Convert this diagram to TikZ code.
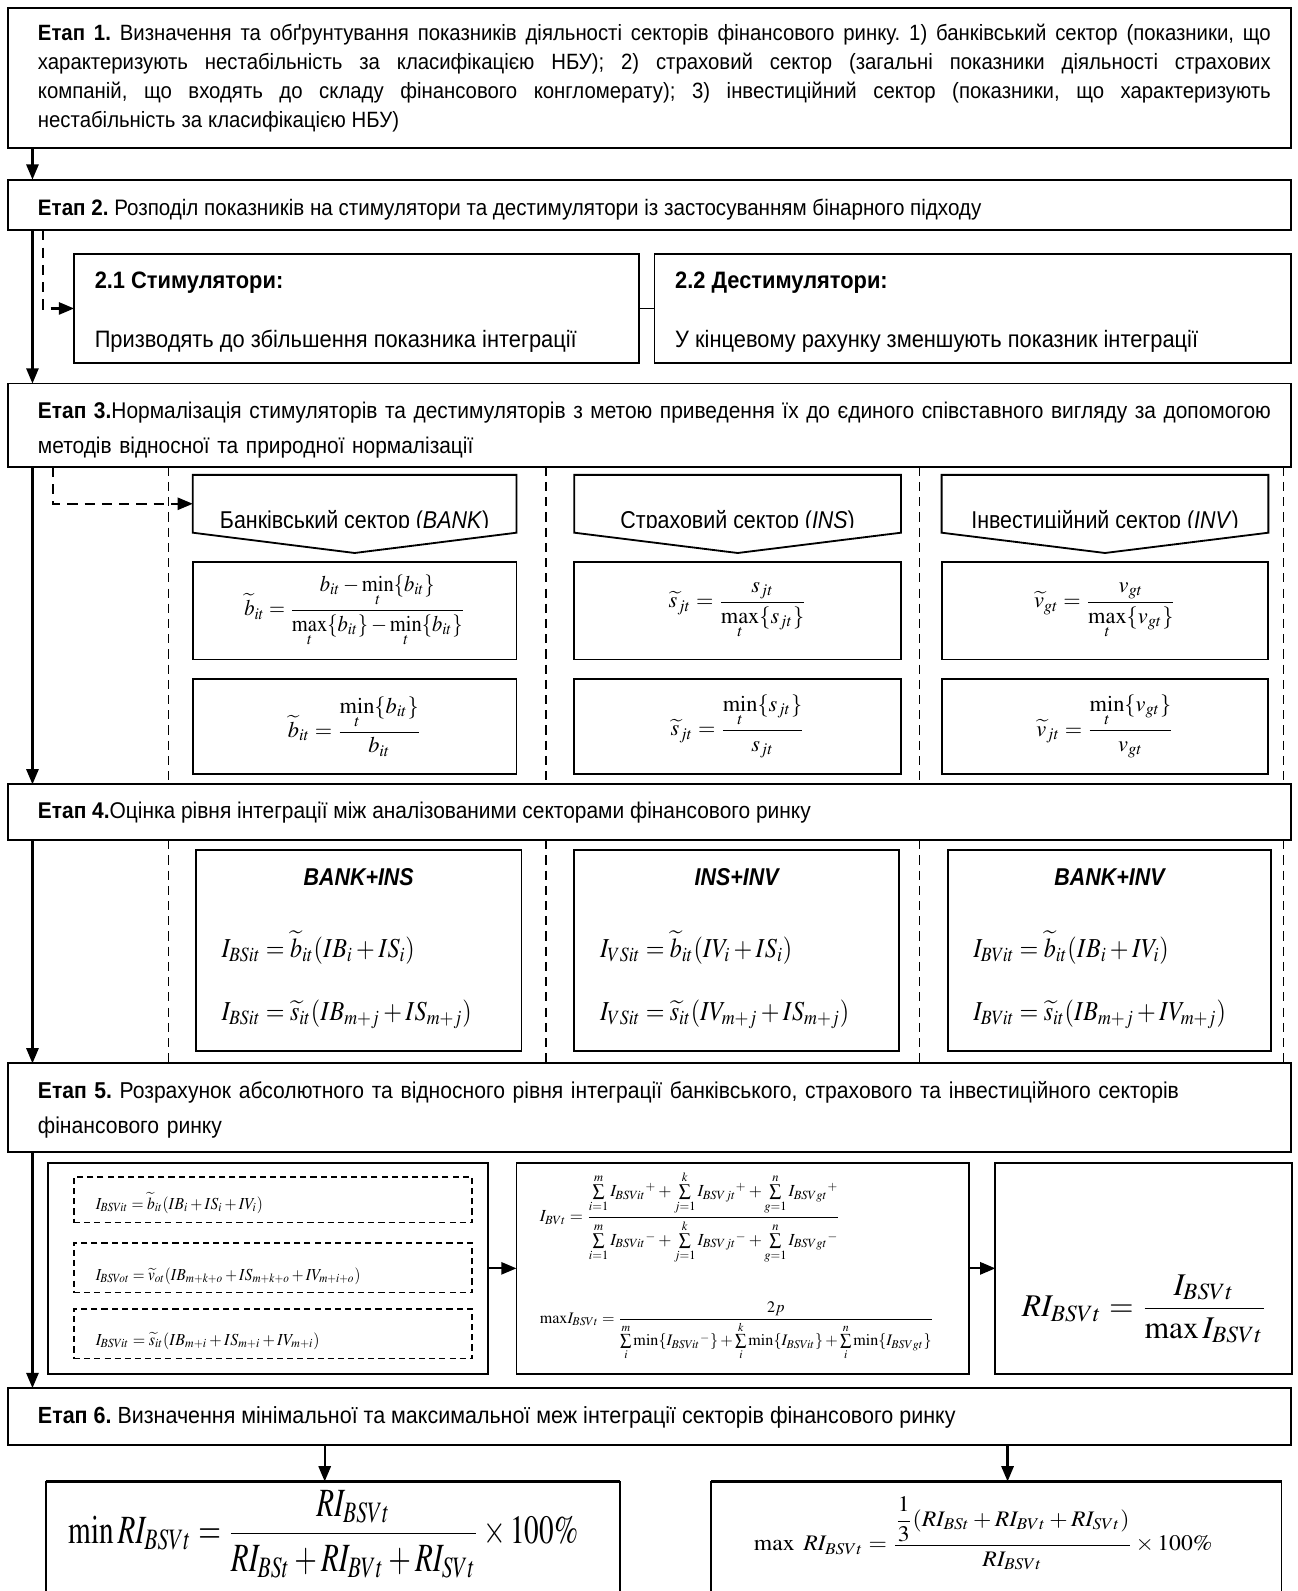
\documentclass[tikz,border=0pt]{standalone}
\usepackage{amsmath}
\usepackage{mathptmx}
\usepackage[no-math]{fontspec}
\setmainfont{Liberation Sans}[FakeStretch=0.92]
\newfontfamily\narrowfont{Liberation Sans}[FakeStretch=0.88]
\usepackage{graphicx}
\usetikzlibrary{arrows.meta,calc}

\DeclareRobustCommand{\looseSp}{\frenchspacing\spaceskip=0.27em plus 1em minus 0.08em\relax}

\tikzset{
  frame/.style={draw, line width=0.9pt},
  nobox/.style={},
  dbox/.style={draw, line width=0.7pt, dash pattern=on 3pt off 2pt},
  arr/.style={line width=1.1pt, -{Triangle[length=7.5pt,width=6pt]}},
  darr/.style={line width=1.1pt, dash pattern=on 5pt off 3.5pt, -{Triangle[length=7.5pt,width=6pt]}},
  sep/.style={line width=0.6pt, dash pattern=on 4.5pt off 3pt},
  link/.style={line width=0.6pt},
  etxt/.style={anchor=base west, inner sep=0pt, font=\fontsize{11.2}{14.35}\selectfont},
  fm/.style={inner sep=0pt},
  ptxt/.style={anchor=base, inner sep=0pt, font=\narrowfont\fontsize{12}{14}\selectfont},
  ttl/.style={inner sep=0pt, font=\narrowfont\fontsize{12}{14}\selectfont\bfseries\itshape},
  topthick/.style={line width=1.6pt},
}

\newcommand{\bx}[6][frame]{%
  \pgfmathsetmacro{\bxw}{(#5-#3)*0.5}%
  \pgfmathsetmacro{\bxh}{(#6-#4)*0.5}%
  \node[#1, anchor=north west, inner sep=0pt, outer sep=0pt, minimum width=\bxw pt, minimum height=\bxh pt] (#2) at (#3,#4) {};}
\newcommand{\sq}[1]{\scalebox{0.88}[1]{#1}}

\begin{document}
\frenchspacing
\begin{tikzpicture}[x=0.5pt,y=-0.5pt]
\useasboundingbox (0,0) rectangle (1279,1568);
\clip (0,0) rectangle (1279,1568);
\fill[white] (0,0) rectangle (1279,1568);

% ---------- stage boxes ----------
\bx{e1}{8}{8}{1272}{146}
\bx{e2}{8}{177}{1272}{227}
\bx{b21}{73}{250}{630}{358}
\bx{b22}{645}{250}{1272}{358}
\bx{e3}{8}{378}{1272}{460}
\bx{e4}{8}{773}{1272}{828}
\bx{e5}{8}{1048}{1272}{1135}
\bx{e6}{8}{1368}{1272}{1424}

% ---------- texts of stages ----------
\node[etxt, font=\fontsize{10.9}{14.35}\selectfont, text width=607.5pt, align=left] (t1) at (37,40) {\looseSp
\makebox[607.5pt][s]{\textbf{Етап 1.} Визначення та обґрунтування показників діяльності секторів фінансового ринку. 1) банківський сектор (показники, що}\\
\makebox[607.5pt][s]{характеризують нестабільність за класифікацією НБУ); 2) страховий сектор (загальні показники діяльності страхових}\\
\makebox[607.5pt][s]{компаній, що входять до складу фінансового конгломерату); 3) інвестиційний сектор (показники, що характеризують}\\
нестабільність за класифікацією НБУ)};
\node[etxt, font=\fontsize{11.03}{13}\selectfont] (t2) at (37,212) {\textbf{Етап 2.} Розподіл показників на стимулятори та дестимулятори із застосуванням бінарного підходу};
\node[etxt, font=\fontsize{11.7}{13}\selectfont\bfseries] (t21a) at (93,284) {2.1 Стимулятори:};
\node[etxt, font=\fontsize{11.7}{13}\selectfont] (t21b) at (93,342) {Призводять до збільшення показника інтеграції};
\node[etxt, font=\fontsize{11.7}{13}\selectfont\bfseries] (t22a) at (665,284) {2.2 Дестимулятори:};
\node[etxt, font=\fontsize{11.7}{13}\selectfont] (t22b) at (665,342) {У кінцевому рахунку зменшують показник інтеграції};
\node[etxt, font=\fontsize{11.2}{17.5}\selectfont, text width=620pt, align=left] (t3) at (37,412) {\textbf{Етап 3.}Нормалізація стимуляторів та дестимуляторів з метою приведення їх до єдиного співставного вигляду за допомогою\\методів відносної та природної нормалізації};
\node[etxt] (t4) at (37,807) {\textbf{Етап 4.}Оцінка рівня інтеграції між аналізованими секторами фінансового ринку};
\node[etxt, font=\fontsize{11.3}{17}\selectfont, text width=620pt, align=left] (t5) at (37,1083) {\textbf{Етап 5.} Розрахунок абсолютного та відносного рівня інтеграції банківського, страхового та інвестиційного секторів\\фінансового ринку};
\node[etxt, font=\fontsize{11.5}{13}\selectfont] (t6) at (37,1403) {\textbf{Етап 6.} Визначення мінімальної та максимальної меж інтеграції секторів фінансового ринку};

% ---------- main left arrows ----------
\draw[arr] ($(e1.south west)+(24,0)$) -- ($(e2.north west)+(24,0)$);
\draw[arr] ($(e2.south west)+(24,0)$) -- ($(e3.north west)+(24,0)$);
\draw[arr] ($(e3.south west)+(24,0)$) -- ($(e4.north west)+(24,0)$);
\draw[arr] ($(e4.south west)+(24,0)$) -- ($(e5.north west)+(24,0)$);
\draw[arr] ($(e5.south west)+(24,0)$) -- ($(e6.north west)+(24,0)$);

% ---------- stage 2 ----------
\draw[darr] ($(e2.south west)+(34,0)$) |- (b21.west);
\draw[link] (b21.east) -- (b22.west);

% ---------- stage 3 ----------
\foreach \sx in {166,538,906,1265}{
  \draw[sep] (\sx,460) -- (\sx,773);
  \draw[sep] (\sx,828) -- (\sx,1048);
}
\bx[nobox]{p1}{190}{468}{509}{525}
\bx[nobox]{p2}{566}{468}{888}{525}
\bx[nobox]{p3}{928}{468}{1250}{525}
\foreach \p in {p1,p2,p3}{
  \draw[frame] (\p.north west) -- (\p.north east) -- (\p.south east) -- ($(\p.south)+(0,20)$) -- (\p.south west) -- cycle;
}
\begin{scope}
\clip (180,470) rectangle (1260,519.5);
\node[ptxt] (pt1) at ($(p1.south)+(0,-4.5)$) {Банківський сектор (\textit{BANK})};
\node[ptxt] (pt2) at ($(p2.south)+(0,-4.5)$) {Страховий сектор (\textit{INS})};
\node[ptxt] (pt3) at ($(p3.south)+(0,-4.5)$) {Інвестиційний сектор (\textit{INV})};
\end{scope}
\draw[darr] ($(e3.south west)+(44,0)$) |- (p1.west);

\bx{f11}{190}{554}{509}{650}
\bx{f12}{190}{669}{509}{763}
\bx{f21}{566}{554}{888}{650}
\bx{f22}{566}{669}{888}{763}
\bx{f31}{928}{554}{1250}{650}
\bx{f32}{928}{669}{1250}{763}

\begin{scope}[every node/.style={fm, font=\fontsize{11}{13}\selectfont}]
\node (m11) at (f11) {\scalebox{0.92}[1]{$\widetilde{b}_{it}=\dfrac{b_{it}-\min\limits_{t}\{b_{it}\}}{\max\limits_{t}\{b_{it}\}-\min\limits_{t}\{b_{it}\}}$}};
\node (m12) at (f12) {$\widetilde{b}_{it}=\dfrac{\min\limits_{t}\{b_{it}\}}{b_{it}}$};
\node (m21) at (f21) {$\widetilde{s}_{jt}=\dfrac{s_{jt}}{\max\limits_{t}\{s_{jt}\}}$};
\node (m22) at (f22) {$\widetilde{s}_{jt}=\dfrac{\min\limits_{t}\{s_{jt}\}}{s_{jt}}$};
\node (m31) at (f31) {$\widetilde{v}_{gt}=\dfrac{v_{gt}}{\max\limits_{t}\{v_{gt}\}}$};
\node (m32) at (f32) {$\widetilde{v}_{jt}=\dfrac{\min\limits_{t}\{v_{gt}\}}{v_{gt}}$};
\end{scope}

% ---------- stage 4 ----------
\bx{g1}{193}{838}{514}{1036}
\bx{g2}{566}{838}{886}{1036}
\bx{g3}{934}{838}{1253}{1036}
\node[ttl] (tt1) at ($(g1.north)+(0,26)$) {BANK+INS};
\node[ttl] (tt2) at ($(g2.north)+(0,26)$) {INS+INV};
\node[ttl] (tt3) at ($(g3.north)+(0,26)$) {BANK+INV};
\begin{scope}[every node/.style={fm, anchor=west, font=\fontsize{13.5}{16}\selectfont}]
\node (q1a) at ($(g1.north west)+(25,96)$) {\sq{$I_{BSit}=\widetilde{b}_{it}(IB_i+IS_i)$}};
\node (q1b) at ($(g1.north west)+(25,162)$) {\sq{$I_{BSit}=\widetilde{s}_{it}(IB_{m+j}+IS_{m+j})$}};
\node (q2a) at ($(g2.north west)+(25,96)$) {\sq{$I_{VSit}=\widetilde{b}_{it}(IV_i+IS_i)$}};
\node (q2b) at ($(g2.north west)+(25,162)$) {\sq{$I_{VSit}=\widetilde{s}_{it}(IV_{m+j}+IS_{m+j})$}};
\node (q3a) at ($(g3.north west)+(25,96)$) {\sq{$I_{BVit}=\widetilde{b}_{it}(IB_i+IV_i)$}};
\node (q3b) at ($(g3.north west)+(25,162)$) {\sq{$I_{BVit}=\widetilde{s}_{it}(IB_{m+j}+IV_{m+j})$}};
\end{scope}

% ---------- stage 5 ----------
\bx{h1}{47}{1146}{481}{1354}
\bx{h2}{509}{1146}{955}{1354}
\bx{h3}{981}{1146}{1273}{1354}
\bx[dbox]{d1}{73}{1160}{465}{1205}
\bx[dbox]{d2}{73}{1225}{465}{1274}
\bx[dbox]{d3}{73}{1290}{465}{1339}
\begin{scope}[every node/.style={fm, anchor=west, font=\fontsize{8.3}{10}\selectfont}]
\node (r1) at ($(d1.west)+(21,3)$) {\scalebox{0.92}[1]{$I_{BSVit}=\widetilde{b}_{it}(IB_i+IS_i+IV_i)$}};
\node (r2) at ($(d2.west)+(21,8)$) {\scalebox{0.9}[1]{$I_{BSVot}=\widetilde{v}_{ot}(IB_{m+k+o}+IS_{m+k+o}+IV_{m+i+o})$}};
\node (r3) at ($(d3.west)+(21,7)$) {\scalebox{0.95}[1]{$I_{BSVit}=\widetilde{s}_{it}(IB_{m+i}+IS_{m+i}+IV_{m+i})$}};
\end{scope}
\node[fm] (s1) at (680,1200) {\resizebox{148pt}{!}{$I_{BVt}=\dfrac{\sum\limits_{i=1}^{m} I_{BSVit}{}^{+}+\sum\limits_{j=1}^{k} I_{BSVjt}{}^{+}+\sum\limits_{g=1}^{n} I_{BSVgt}{}^{+}}{\sum\limits_{i=1}^{m} I_{BSVit}{}^{-}+\sum\limits_{j=1}^{k} I_{BSVjt}{}^{-}+\sum\limits_{g=1}^{n} I_{BSVgt}{}^{-}}$}};
\node[fm] (s2) at (726,1312) {\resizebox{194pt}{!}{$\mathrm{max}I_{BSVt}=\dfrac{2p}{\sum\limits_{i}^{m}\min\{I_{BSVit}{}^{-}\}+\sum\limits_{i}^{k}\min\{I_{BSVit}\}+\sum\limits_{i}^{n}\min\{I_{BSVgt}\}}$}};
\node[fm] (s3) at (1128,1290) {\resizebox{121pt}{!}{$RI_{BSVt}=\dfrac{I_{BSVt}}{\max I_{BSVt}}$}};
\draw[arr] (h1.east) -- (h1.east -| h2.west);
\draw[arr] (h2.east) -- (h2.east -| h3.west);

% ---------- stage 6 ----------
\bx[nobox]{k1}{45}{1460}{611}{1600}
\bx[nobox]{k2}{701}{1460}{1263}{1600}
\foreach \k in {k1,k2}{
  \draw[line width=0.9pt] (\k.south west) -- (\k.north west);
  \draw[line width=0.9pt] (\k.north east) -- (\k.south east);
  \draw[topthick] (\k.north west) -- (\k.north east);
}
\coordinate (c1) at ($(e6.south west)+(312,0)$);
\coordinate (c2) at ($(e6.south west)+(985,0)$);
\draw[arr] (c1) -- (c1 |- k1.north);
\draw[arr] (c2) -- (c2 |- k2.north);
\node[fm] (u1) at (319,1512) {\resizebox*{251pt}{43pt}{$\min RI_{BSVt}=\dfrac{RI_{BSVt}}{RI_{BSt}+RI_{BVt}+RI_{SVt}}\times 100\%$}};
\node[fm] (u2) at (969,1511) {\resizebox*{226pt}{36pt}{$\max\ RI_{BSVt}=\dfrac{\dfrac{1}{3}(RI_{BSt}+RI_{BVt}+RI_{SVt})}{RI_{BSVt}}\times 100\%$}};
\end{tikzpicture}
\end{document}
